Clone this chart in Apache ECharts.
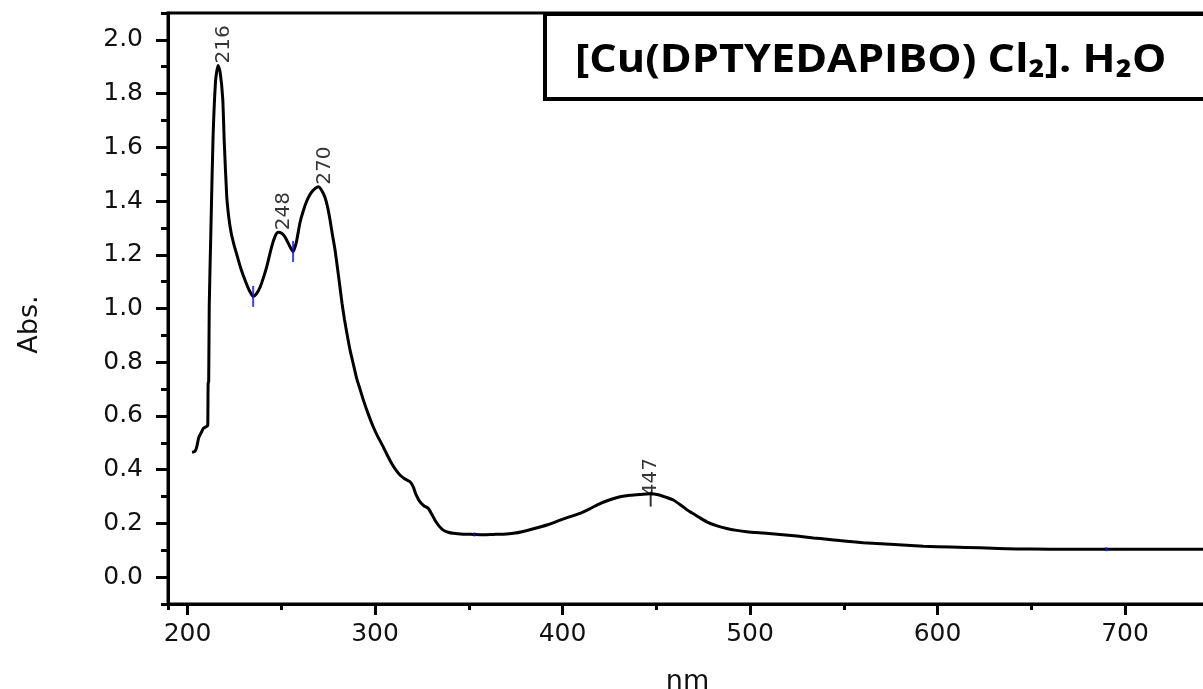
<!DOCTYPE html>
<html>
<head>
<meta charset="utf-8">
<script src="https://cdn.jsdelivr.net/npm/echarts/dist/echarts.min.js"></script>
<style>
html, body { margin: 0; padding: 0; background: #fff; }
#main { width: 1203px; height: 689px; }
</style>
</head>
<body>
<div id="main"></div>
<script>
// absorption spectrum (nm / Abs.)
var wavelength = [
    202.4, 204.0, 205.0, 206.0, 207.7, 208.6, 210.4, 210.8, 211.0, 211.3,
    211.6, 212.5, 213.6, 215.0, 216.3, 217.4, 218.8, 219.6, 220.9, 222.0,
    223.2, 224.7, 226.2, 228.4, 230.7, 232.9, 235.0, 236.8, 238.7, 240.5,
    242.2, 244.9, 246.8, 248.3, 250.2, 252.0, 254.3, 256.3, 258.0, 260.0,
    261.8, 263.6, 265.4, 267.0, 269.8, 271.5, 273.3, 274.8, 276.0, 277.4,
    278.7, 280.0, 281.3, 282.4, 283.7, 285.0, 286.7, 288.2, 290.2, 292.0,
    293.8, 296.5, 299.1, 301.7, 304.4, 306.7, 308.9, 311.0, 313.3, 316.0,
    318.7, 320.4, 322.0, 324.0, 326.2, 328.4, 330.2, 332.0, 334.2, 336.4,
    339.0, 341.8, 347.0, 352.4, 357.7, 363.1, 368.5, 373.8, 379.0, 386.0,
    393.0, 398.7, 404.0, 409.3, 414.7, 420.0, 425.3, 430.7, 436.0, 441.3,
    446.7, 451.0, 455.0, 459.1, 463.5, 468.0, 472.5, 476.9, 482.0, 487.6,
    492.9, 498.2, 507.0, 516.0, 525.0, 533.8, 541.0, 548.0, 560.4, 574.7,
    592.4, 607.0, 622.7, 642.2, 660.0, 690.0, 720.0, 742.0
];
var absorbance = [
    0.465, 0.468, 0.487, 0.520, 0.543, 0.555, 0.562, 0.565, 0.720, 0.730,
    1.010, 1.300, 1.630, 1.850, 1.905, 1.880, 1.780, 1.620, 1.420, 1.340,
    1.285, 1.240, 1.203, 1.150, 1.105, 1.068, 1.045, 1.055, 1.079, 1.115,
    1.154, 1.230, 1.270, 1.284, 1.280, 1.266, 1.235, 1.212, 1.245, 1.320,
    1.365, 1.400, 1.425, 1.440, 1.453, 1.440, 1.414, 1.375, 1.330, 1.270,
    1.217, 1.150, 1.080, 1.020, 0.960, 0.908, 0.845, 0.800, 0.740, 0.700,
    0.659, 0.605, 0.559, 0.520, 0.485, 0.452, 0.423, 0.400, 0.380, 0.365,
    0.355, 0.336, 0.305, 0.280, 0.265, 0.256, 0.235, 0.212, 0.190, 0.175,
    0.167, 0.163, 0.160, 0.159, 0.158, 0.159, 0.160, 0.163, 0.170, 0.183,
    0.197, 0.212, 0.225, 0.237, 0.255, 0.274, 0.288, 0.299, 0.305, 0.308,
    0.310, 0.307, 0.298, 0.287, 0.266, 0.243, 0.224, 0.206, 0.192, 0.181,
    0.174, 0.169, 0.164, 0.159, 0.153, 0.146, 0.141, 0.136, 0.128, 0.122,
    0.115, 0.112, 0.109, 0.105, 0.104, 0.104, 0.104, 0.104
];

// labelled maxima
var peakNm = [216, 248, 270, 447];
var peakAbs = [1.905, 1.284, 1.453, 0.309];

// blue minimum markers
var valleyNm = [235, 256.3, 353, 690];
var valleyAbs = [1.045, 1.212, 0.159, 0.104];

var xRange = [189.6, 743.7];
var yRange = [-0.1, 2.1];

var titleText = '[Cu(DPTYEDAPIBO) Cl\u2082]. H\u2082O';

var spectrum = wavelength.map(function (w, i) { return [w, absorbance[i]]; });
// label offsets are in the rotated frame: [up, right]
var peaks = peakNm.map(function (w, i) {
    return {
        value: [w, peakAbs[i]],
        label: { offset: w > 400 ? [3, 0] : [2, 6] }
    };
});
var valleys = valleyNm.map(function (w, i) { return [w, valleyAbs[i]]; });

var font = 'DejaVu Sans';
var ink = '#111';

var myChart = echarts.init(document.getElementById('main'));

var option = {
    backgroundColor: '#fff',
    animation: false,
    grid: {
        left: 168,
        right: -4,
        top: 13,
        bottom: 85,
        outerBoundsMode: 'none',
        containLabel: false,
        show: true,
        borderColor: '#000',
        borderWidth: 3
    },
    xAxis: [{
        type: 'value',
        min: xRange[0],
        max: xRange[1],
        splitNumber: 5,
        name: 'nm',
        nameLocation: 'middle',
        nameGap: 64,
        nameTextStyle: { fontFamily: font, fontSize: 27, color: ink },
        axisLine: { onZero: false, lineStyle: { color: '#000', width: 3 } },
        axisTick: { length: 11, lineStyle: { color: '#000', width: 3 } },
        axisLabel: {
            fontFamily: font, fontSize: 25, color: ink, margin: 18,
            showMinLabel: false, showMaxLabel: false
        },
        splitLine: { show: false }
    }, {
        // minor ticks every 50 nm
        type: 'value',
        position: 'bottom',
        min: xRange[0],
        max: xRange[1],
        splitNumber: 11,
        axisLine: { show: false, onZero: false },
        axisTick: { length: 6, lineStyle: { color: '#000', width: 3 } },
        axisLabel: { show: false },
        splitLine: { show: false }
    }],
    yAxis: [{
        type: 'value',
        position: 'left',
        min: yRange[0],
        max: yRange[1],
        splitNumber: 11,
        name: 'Abs.',
        nameLocation: 'middle',
        nameGap: 125,
        nameTextStyle: {
            fontFamily: font, fontSize: 27, color: ink,
            padding: [0, 32, 0, 0]
        },
        axisLine: { onZero: false, lineStyle: { color: '#000', width: 3 } },
        axisTick: { length: 12, lineStyle: { color: '#000', width: 3 } },
        axisLabel: {
            fontFamily: font, fontSize: 25, color: ink, margin: 25,
            formatter: function (v) { return v.toFixed(1); },
            showMinLabel: false, showMaxLabel: false
        },
        splitLine: { show: false }
    }, {
        // minor ticks every 0.1
        type: 'value',
        position: 'left',
        min: yRange[0],
        max: yRange[1],
        splitNumber: 22,
        axisLine: { show: false, onZero: false },
        axisTick: { length: 7, lineStyle: { color: '#000', width: 3 } },
        axisLabel: { show: false },
        splitLine: { show: false }
    }],
    graphic: [{
        type: 'rect',
        shape: { x: 545, y: 14, width: 700, height: 85 },
        style: { fill: '#fff', stroke: '#000', lineWidth: 4 },
        z: 10
    }, {
        type: 'text',
        x: 575,
        y: 61,
        scaleX: 1.08,
        style: {
            text: titleText,
            font: 'bold 40px "Open Sans"',
            fill: '#000',
            verticalAlign: 'middle'
        },
        z: 11
    }],
    series: [{
        type: 'line',
        data: spectrum,
        showSymbol: false,
        smooth: 0.2,
        lineStyle: { color: '#000', width: 3 },
        z: 3
    }, {
        type: 'scatter',
        data: valleys,
        symbol: 'rect',
        symbolSize: function (v, p) { return p.dataIndex < 2 ? [2, 21] : [2, 4]; },
        itemStyle: { color: '#1010ff' },
        z: 4
    }, {
        type: 'scatter',
        data: peaks,
        symbol: 'rect',
        symbolSize: function (v, p) { return p.dataIndex === 3 ? [2, 15] : [1, 1]; },
        symbolOffset: function (v) { return v[0] > 400 ? [0, 5] : [0, 0]; },
        itemStyle: { color: '#000' },
        label: {
            show: true,
            position: 'inside',
            align: 'left',
            verticalAlign: 'middle',
            rotate: 90,
            fontFamily: font,
            fontSize: 20,
            color: '#000',
            formatter: function (p) { return String(p.value[0]); }
        },
        z: 5
    }]
};

myChart.setOption(option);
</script>
</body>
</html>
